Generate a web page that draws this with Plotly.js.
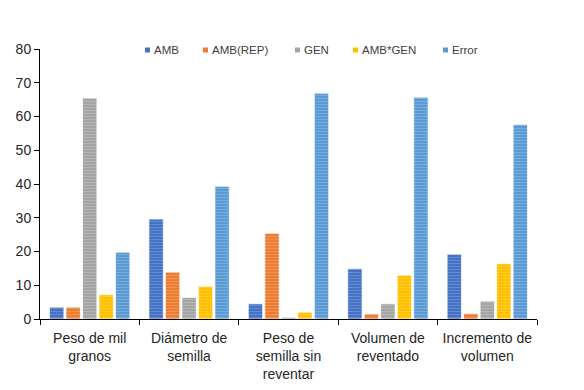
<!DOCTYPE html>
<html>
<head>
<meta charset="utf-8">
<script src="https://cdn.plot.ly/plotly-3.0.1.min.js"></script>
<style>html,body{margin:0;padding:0;background:#fff;}#chart{width:584px;height:390px;}</style>
</head>
<body>
<div id="chart"></div>
<script>
const categories = ["Peso de mil<br>granos", "Diámetro de<br>semilla", "Peso de<br>semilla sin<br>reventar", "Volumen de<br>reventado", "Incremento de<br>volumen"];
const seriesNames = ["AMB", "AMB(REP)", "GEN", "AMB*GEN", "Error"];
const amb = [3.5, 29.6, 4.5, 14.9, 19.2];
const ambRep = [3.5, 13.9, 25.4, 1.5, 1.6];
const gen = [65.5, 6.4, 0.5, 4.5, 5.3];
const ambGen = [7.2, 9.7, 2.0, 13.0, 16.4];
const error = [19.8, 39.3, 66.9, 65.7, 57.6];
const yTicks = [0, 10, 20, 30, 40, 50, 60, 70, 80];
const colors = ["#4472C4", "#ED7D31", "#A5A5A5", "#FFC000", "#5B9BD5"];

// legend layout (pixel positions of each legend entry's square)
const W = 584, H = 390;
const M = {l: 40, r: 47, t: 49, b: 71};
const plotW = W - M.l - M.r, plotH = H - M.t - M.b;
const legendPx = [145, 203, 295, 353, 443];
const legendPy = 50;
const px2x = p => (p - M.l) / plotW;
const py2y = p => (H - M.b - p) / plotH;

const allValues = [amb, ambRep, gen, ambGen, error];
const traces = allValues.map((vals, i) => ({
  type: "bar",
  name: seriesNames[i],
  x: categories,
  y: vals,
  showlegend: false,
  marker: {
    color: colors[i],
    line: {color: "rgba(255,255,255,0.7)", width: 1},
    pattern: {shape: "-", fgcolor: "rgba(255,255,255,0.35)", size: 3, solidity: 0.35, fillmode: "overlay"}
  },
  hoverinfo: "y+name"
}));

const shapes = seriesNames.map((n, i) => ({
  type: "rect", xref: "paper", yref: "paper",
  x0: px2x(legendPx[i]), x1: px2x(legendPx[i] + 5),
  y0: py2y(legendPy + 2.5), y1: py2y(legendPy - 2.5),
  fillcolor: colors[i], line: {width: 0}
}));
const annotations = seriesNames.map((n, i) => ({
  xref: "paper", yref: "paper",
  x: px2x(legendPx[i] + 6.5), y: py2y(legendPy),
  xanchor: "left", yanchor: "middle",
  text: n, showarrow: false,
  font: {size: 11.5, color: "#404040"}
}));

const layout = {
  width: W,
  height: H,
  margin: M,
  paper_bgcolor: "#fff",
  plot_bgcolor: "#fff",
  font: {family: "Liberation Sans, Arial, sans-serif", size: 14, color: "#262626"},
  barmode: "group",
  bargap: 0.17,
  bargroupgap: 0.13,
  showlegend: false,
  shapes: shapes,
  annotations: annotations,
  xaxis: {
    type: "category",
    showline: true, linecolor: "#000", linewidth: 1,
    ticks: "outside", tickson: "boundaries", ticklen: 5, tickcolor: "#000",
    showgrid: false, zeroline: false,
    ticklabelstandoff: 6,
    tickfont: {size: 14, color: "#262626"}
  },
  yaxis: {
    range: [0, 80],
    tickvals: yTicks,
    showline: true, linecolor: "#000", linewidth: 1,
    ticks: "outside", ticklen: 5, tickcolor: "#000",
    showgrid: false, zeroline: false,
    tickfont: {size: 14, color: "#262626"}
  }
};

Plotly.newPlot("chart", traces, layout, {displayModeBar: false, staticPlot: true});
</script>
</body>
</html>
